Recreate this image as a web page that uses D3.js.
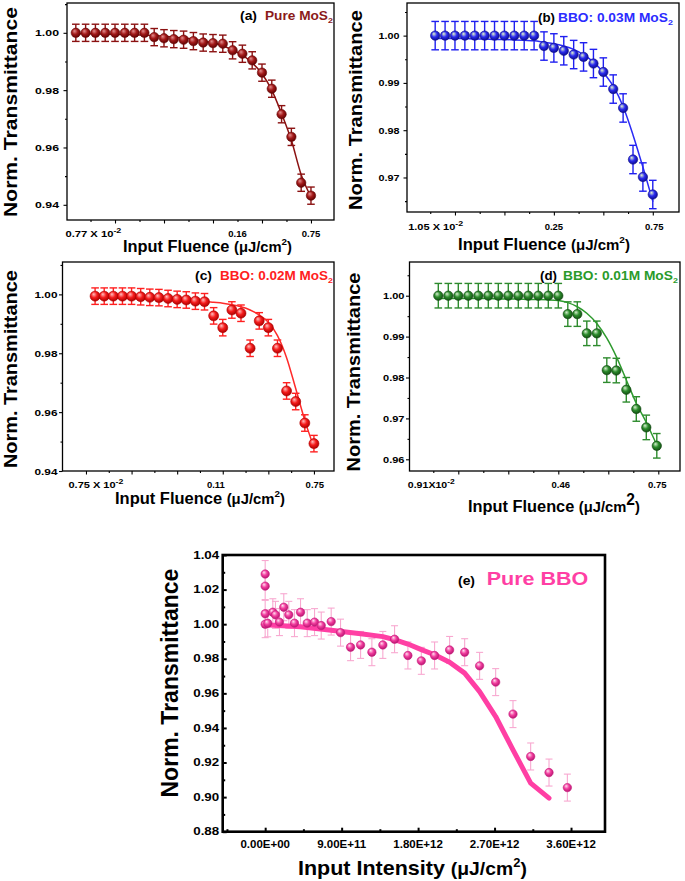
<!DOCTYPE html>
<html><head><meta charset="utf-8">
<script src="https://cdn.jsdelivr.net/npm/d3@7"></script>
<style>
body{margin:0;background:#fff}
svg{display:block}
text{font-family:"Liberation Sans",Arial,Helvetica,sans-serif;font-weight:bold}
</style>
</head><body>
<svg id="c" width="685" height="881"></svg>
<script>
// ---------------- DATA ----------------
// (a) Pure MoS2
const aX   = [-0.8,-0.6,-0.4,-0.2,0,0.2,0.4,0.6,0.8,1.0,1.2,1.4,1.6,1.8,2.0,2.2,2.4,2.6,2.8,3.0,3.2,3.4,3.6,3.8,4.0];
const aY   = [1.000,1.000,1.000,1.000,1.000,1.000,1.000,1.000,0.9985,0.9981,0.9978,0.9976,0.9971,0.9966,0.9964,0.9962,0.9939,0.9927,0.9904,0.9861,0.9805,0.9716,0.9637,0.9477,0.9432];
const aFit = [0.9997,0.9997,0.9996,0.9996,0.9995,0.9994,0.9993,0.9992,0.9990,0.9988,0.9985,0.9982,0.9978,0.9972,0.9965,0.9955,0.9940,0.9922,0.9895,0.9857,0.9800,0.9718,0.9625,0.9505,0.9428];
const aErr = 0.003;
const aTickLabels = ["0.77 X 10|-2","0.16","0.75"];
const aTickPos = [-0.44, 2.5, 4.0];

// (b) BBO: 0.03M MoS2
const bX   = [-0.4,-0.2,0,0.2,0.4,0.6,0.8,1.0,1.2,1.4,1.6,1.8,2.0,2.2,2.4,2.6,2.8,3.0,3.2,3.4,3.6,3.8,4.0];
const bY   = [1,1,1,1,1,1,1,1,1,1,1,0.9978,0.9974,0.9968,0.9960,0.9955,0.9941,0.9923,0.9887,0.9847,0.9738,0.9701,0.9664];
const bFit = [0.9994,0.9994,0.9994,0.9994,0.9993,0.9993,0.9992,0.9992,0.9991,0.9990,0.9989,0.9986,0.9983,0.9978,0.9971,0.9960,0.9944,0.9922,0.9893,0.9850,0.9790,0.9722,0.9650];
const bErr = 0.003;
const bTickLabels = ["1.05 X 10|-2","0.25","0.75"];
const bTickPos = [-0.39, 2.0, 4.03];

// (c) BBO: 0.02M MoS2
const cX   = [0.2,0.4,0.6,0.8,1.0,1.2,1.4,1.6,1.8,2.0,2.2,2.4,2.6,2.8,3.0,3.2,3.4,3.6,3.8,4.0,4.2,4.4,4.6,4.8,5.0];
const cY   = [0.9994,0.9994,0.9994,0.9994,0.9994,0.9992,0.9990,0.9989,0.9986,0.9983,0.9981,0.9977,0.9975,0.9927,0.9887,0.9947,0.9936,0.9817,0.9910,0.9887,0.9817,0.9672,0.9636,0.9563,0.9493];
const cFit = [0.9988,0.9988,0.9987,0.9987,0.9986,0.9985,0.9984,0.9983,0.9982,0.9981,0.9980,0.9978,0.9976,0.9973,0.9970,0.9965,0.9958,0.9947,0.9930,0.9905,0.9860,0.9785,0.9680,0.9572,0.9480];
const cErr = 0.0028;
const cTickLabels = ["0.75 X 10|-2","0.11","0.75"];
const cTickPos = [0.22, 2.85, 5.02];

// (d) BBO: 0.01M MoS2
const dX   = [-0.4,-0.2,0,0.2,0.4,0.6,0.8,1.0,1.2,1.4,1.6,1.8,2.0,2.19,2.38,2.57,2.77,2.97,3.16,3.36,3.56,3.76,3.97];
const dY   = [1,1,1,1,1,1,1,1,1,1,1,1,1,0.9955,0.9955,0.9908,0.9908,0.9818,0.9817,0.9770,0.9723,0.9678,0.9633];
const dFit = [0.9993,0.9993,0.9993,0.9993,0.9993,0.9993,0.9992,0.9992,0.9992,0.9991,0.9991,0.9990,0.9988,0.9983,0.9973,0.9957,0.9932,0.9896,0.9851,0.9794,0.9737,0.9690,0.9635];
const dErr = 0.003;
const dTickLabels = ["0.91X10|-2","0.46","0.75"];
const dTickPos = [-0.54, 2.05, 3.98];

// (e) Pure BBO
const eX = [0,0,0,0,3e10,9.0e10,1.21e11,1.68e11,2.19e11,2.78e11,3.45e11,4.16e11,4.95e11,5.81e11,6.6e11,7.77e11,8.87e11,1.005e12,1.123e12,1.256e12,1.385e12,1.523e12,1.68e12,1.838e12,1.994e12,2.171e12,2.348e12,2.524e12,2.713e12,2.917e12,3.125e12,3.341e12,3.557e12];
const eY = [1.029,1.022,1.006,1.000,1.0005,1.0069,1.0054,1.0012,1.0098,1.0054,1.0006,1.0069,1.0006,1.0012,0.9992,1.0015,0.9951,0.9867,0.9880,0.9838,0.9880,0.9913,0.9819,0.9788,0.9819,0.9851,0.9838,0.9759,0.9665,0.9480,0.9235,0.9142,0.9055];
const eErr = 0.0078;
const eFitX = [0,4.16e11,7.77e11,1.123e12,1.385e12,1.523e12,1.68e12,1.838e12,1.994e12,2.171e12,2.348e12,2.524e12,2.713e12,2.917e12,3.125e12,3.341e12];
const eFitY = [0.9997,0.9985,0.9965,0.9945,0.9928,0.9910,0.9885,0.9853,0.9823,0.9780,0.9717,0.9610,0.9466,0.9273,0.9081,0.8994];
const eTickVals = [0,9e11,1.8e12,2.7e12,3.6e12];
const eTickLabels = ["0.00E+00","9.00E+11","1.80E+12","2.70E+12","3.60E+12"];
const eYTicks = [0.88,0.90,0.92,0.94,0.96,0.98,1.00,1.02,1.04];

// ---------------- DRAWING ----------------
const svg = d3.select("#c");
const defs = svg.append("defs");
const FONT = '"Liberation Sans",Arial,Helvetica,sans-serif';

function ballGrad(id, hi, base, dark){
  const g = defs.append("radialGradient").attr("id", id)
    .attr("cx","45%").attr("cy","42%").attr("r","60%").attr("fx","35%").attr("fy","30%");
  g.append("stop").attr("offset","0%").attr("stop-color",hi);
  g.append("stop").attr("offset","50%").attr("stop-color",base);
  g.append("stop").attr("offset","100%").attr("stop-color",dark);
}
ballGrad("ga","#e39090","#a31a1a","#5c0000");
ballGrad("gb","#e4f7c8","#2b2bee","#0a0a8c");
ballGrad("gc","#ffc0c0","#f51c1c","#a80000");
ballGrad("gd","#d8f0d0","#2c8c2c","#124c12");
ballGrad("ge","#ffe0f0","#f23d9e","#b4136e");

// text fitted to a target width (keeps real text, scales horizontally)
function fitText(parent, o){
  const g = parent.append("g");
  const t = g.append("text").attr("fill", o.fill || "#000");
  o.parts.forEach(p=>{
    const ts = t.append("tspan").text(p.t).attr("font-size", p.size);
    if(p.dy) ts.attr("dy", p.dy);
    if(p.fill) ts.attr("fill", p.fill);
  });
  const w = t.node().getComputedTextLength();
  const s = o.width / w;
  const x0 = o.anchor==="start" ? 0 : (o.anchor==="end" ? -o.width : -o.width/2);
  t.attr("transform",`translate(${x0},0) scale(${s},1)`);
  g.attr("transform", o.rotate ? `translate(${o.x},${o.y}) rotate(-90)` : `translate(${o.x},${o.y})`);
  return g;
}

function tickLabel(parent, x, y, label, size, width){
  const parts = label.split("|");
  if(parts.length>1){
    fitText(parent,{x:x,y:y,width:width,parts:[{t:parts[0],size:size},{t:parts[1],size:size*0.8,dy:-4}]});
  } else {
    parent.append("text").attr("x",x).attr("y",y).attr("text-anchor","middle").attr("font-size",size).text(parts[0]);
  }
}

function drawPanel(p){
  const g = svg.append("g");
  const x = d3.scaleLinear().domain(p.xDomain).range([p.left,p.right]);
  const y = d3.scaleLinear().domain(p.yDomain).range([p.bottom,p.top]);

  // y ticks
  const yAxis = d3.axisLeft(y).tickValues(p.yTicks).tickFormat(d3.format(".2f")).tickSize(p.tickLen).tickPadding(p.yPad);
  const ya = g.append("g").attr("transform",`translate(${p.left},0)`).call(yAxis)
    .attr("font-family",FONT).attr("font-size",p.yFont);
  ya.select(".domain").remove();
  ya.selectAll(".tick line").attr("stroke-width",p.tickW);
  ya.selectAll("text").attr("font-weight","bold").attr("fill","#000")
    .attr("textLength",p.yLabW).attr("lengthAdjust","spacingAndGlyphs");
  const yMin = d3.axisLeft(y).tickValues(p.yMinor).tickFormat("").tickSize(p.minorLen);
  const ym = g.append("g").attr("transform",`translate(${p.left},0)`).call(yMin);
  ym.select(".domain").remove();
  ym.selectAll(".tick line").attr("stroke-width",p.tickW);

  // x ticks
  const xAxis = d3.axisBottom(x).tickValues(p.xMajor).tickFormat("").tickSize(p.tickLen);
  const xa = g.append("g").attr("transform",`translate(0,${p.bottom})`).call(xAxis);
  xa.select(".domain").remove();
  xa.selectAll(".tick line").attr("stroke-width",p.tickW);
  const xMin = d3.axisBottom(x).tickValues(p.xMinor).tickFormat("").tickSize(p.minorLen);
  const xm = g.append("g").attr("transform",`translate(0,${p.bottom})`).call(xMin);
  xm.select(".domain").remove();
  xm.selectAll(".tick line").attr("stroke-width",p.tickW);

  // frame
  g.append("rect").attr("x",p.left).attr("y",p.top).attr("width",p.right-p.left).attr("height",p.bottom-p.top)
    .attr("fill","none").attr("stroke","#000").attr("stroke-width",p.frameW);

  // x tick labels
  p.tickLabels.forEach((lab,i)=> tickLabel(g, x(p.tickPos[i]), p.xLabY, lab, p.xFont, p.sciW));

  // error bars
  const eb = g.append("g").attr("stroke",p.errColor).attr("stroke-width",p.errW).attr("fill","none");
  p.xs.forEach((xv,i)=>{
    const cx = x(xv), y1 = y(p.ys[i]+p.err), y2 = y(p.ys[i]-p.err);
    eb.append("line").attr("x1",cx).attr("x2",cx).attr("y1",y1).attr("y2",y2);
    eb.append("line").attr("x1",cx-p.cap).attr("x2",cx+p.cap).attr("y1",y1).attr("y2",y1);
    eb.append("line").attr("x1",cx-p.cap).attr("x2",cx+p.cap).attr("y1",y2).attr("y2",y2);
  });

  // fit line
  const line = d3.line().x(d=>x(d[0])).y(d=>y(d[1])).curve(p.curve);
  g.append("path").datum(p.fitX.map((v,i)=>[v,p.fitY[i]]))
    .attr("d",line).attr("fill","none").attr("stroke",p.lineColor).attr("stroke-width",p.lineW)
    .attr("stroke-linejoin","round").attr("stroke-linecap","round");

  // points
  g.append("g").selectAll("circle").data(p.xs.map((v,i)=>[v,p.ys[i]])).join("circle")
    .attr("cx",d=>x(d[0])).attr("cy",d=>y(d[1])).attr("r",p.r)
    .attr("fill",`url(#${p.grad})`).attr("stroke",p.ptStroke).attr("stroke-width",0.6);

  // titles
  fitText(g,{x:p.yTitle[0],y:p.yTitle[1],width:p.yTitle[2],rotate:true,
    parts:[{t:"Norm. Transmittance",size:p.yTitleSize}]});
  const xt = p.xTitle;
  fitText(g,{x:xt[0],y:xt[1],width:xt[2],parts:[
    {t:"Input "+p.xWord+" ",size:xt[3]},
    {t:"(\u03BCJ/cm",size:xt[3]*p.unitScale},
    {t:"2",size:xt[3]*p.supScale,dy:-xt[3]*0.42},
    {t:")",size:xt[3]*p.unitScale,dy:xt[3]*0.42}
  ]});
  // panel labels
  const pl = p.plabel;
  fitText(g,{x:pl[0],y:pl[2],width:pl[1],anchor:"start",parts:[{t:p.letter,size:pl[3]}]});
  const nm = p.name;
  const nameParts = p.sub ? [{t:p.title,size:nm[3]},{t:"2",size:nm[3]*0.65,dy:3}] : [{t:p.title,size:nm[3]}];
  fitText(g,{x:nm[0],y:nm[2],width:nm[1],anchor:"start",fill:p.titleColor,parts:nameParts});
}

const common = {tickLen:3.5, minorLen:2, tickW:1.1, frameW:1.3, errW:1.4, lineW:1.5, curve:d3.curveMonotoneX,
  xFont:9.5, yFont:9.5, yTitleSize:19, xWord:"Fluence", supScale:0.6, unitScale:0.9, sub:true, cap:3.8, r:4.7};

drawPanel(Object.assign({},common,{
  left:67,right:334,top:3,bottom:220,xDomain:[-0.98,4.47],yDomain:[0.9347,1.0104],
  yTicks:[0.94,0.96,0.98,1.00],yMinor:[0.95,0.97,0.99,1.01],yPad:4.5,yLabW:24,
  xMajor:[0,1,2,3,4],xMinor:[-0.5,0.5,1.5,2.5,3.5],
  tickLabels:aTickLabels,tickPos:aTickPos,xLabY:237,sciW:56,
  xs:aX,ys:aY,err:aErr,fitX:aX,fitY:aFit,
  errColor:"#8b1111",lineColor:"#8b1111",grad:"ga",ptStroke:"#6a0808",
  yTitle:[17,112,210],xTitle:[207.5,252,169,16.5],
  letter:"(a)",plabel:[240,17,20,13],title:"Pure MoS",name:[265,68,20,12.5],titleColor:"#8b1a1a"
}));

drawPanel(Object.assign({},common,{
  left:407,right:679,top:3,bottom:212,xDomain:[-0.97,4.53],yDomain:[0.9627,1.0069],
  yTicks:[0.97,0.98,0.99,1.00],yMinor:[0.965,0.975,0.985,0.995,1.005],yPad:4,yLabW:21,
  xMajor:[0,1,2,3,4],xMinor:[-0.5,0.5,1.5,2.5,3.5],
  tickLabels:bTickLabels,tickPos:bTickPos,xLabY:230,sciW:55,
  xs:bX,ys:bY,err:bErr,fitX:bX,fitY:bFit,
  errColor:"#1f1ff0",lineColor:"#2a2af5",grad:"gb",ptStroke:"#10108a",
  yTitle:[362,110,200],xTitle:[544,250,172,16.5],
  letter:"(b)",plabel:[538,17,21.7,13],title:"BBO: 0.03M MoS",name:[558,115,21.7,12.5],titleColor:"#2b2bff"
}));

drawPanel(Object.assign({},common,{
  left:62.5,right:334,top:262,bottom:471,xDomain:[-0.515,5.44],yDomain:[0.94,1.011],
  yTicks:[0.94,0.96,0.98,1.00],yMinor:[0.95,0.97,0.99,1.01],yPad:1.5,yLabW:23,
  xMajor:[0,1,2,3,4,5],xMinor:[0.5,1.5,2.5,3.5,4.5],
  tickLabels:cTickLabels,tickPos:cTickPos,xLabY:488,sciW:55,
  xs:cX,ys:cY,err:cErr,fitX:cX,fitY:cFit,
  errColor:"#ff2020",lineColor:"#ff2a2a",grad:"gc",ptStroke:"#b00000",r:5,
  yTitle:[17,369,198],xTitle:[200,504,170,16.5],
  letter:"(c)",plabel:[195,17,279.5,13],title:"BBO: 0.02M MoS",name:[220,113,279.5,12.5],titleColor:"#ff2020"
}));

drawPanel(Object.assign({},common,{
  left:409.5,right:680,top:262,bottom:471,xDomain:[-0.976,4.434],yDomain:[0.95714,1.00824],
  yTicks:[0.96,0.97,0.98,0.99,1.00],yMinor:[0.965,0.975,0.985,0.995,1.005],yPad:1.5,yLabW:21.5,
  xMajor:[0,1,2,3,4],xMinor:[-0.5,0.5,1.5,2.5,3.5],
  tickLabels:dTickLabels,tickPos:dTickPos,xLabY:488,sciW:47,
  xs:dX,ys:dY,err:dErr,fitX:dX,fitY:dFit,
  errColor:"#2e8b2e",lineColor:"#2e9a2e",grad:"gd",ptStroke:"#0f460f",
  yTitle:[360,372,199],xTitle:[554,512,172,16.5],supScale:0.95,
  letter:"(d)",plabel:[540,17,280,13],title:"BBO: 0.01M MoS",name:[563,115,280,12.5],titleColor:"#2a9a2a"
}));

drawPanel(Object.assign({},common,{
  left:222.7,right:605,top:555,bottom:831.7,xDomain:[-5e11,4.0e12],yDomain:[0.88,1.04],
  yTicks:eYTicks,yMinor:[0.89,0.91,0.93,0.95,0.97,0.99,1.01,1.03],yPad:3.5,yLabW:26,yFont:10,
  tickLen:-4,minorLen:-2.5,tickW:2,frameW:2.6,
  xMajor:eTickVals,xMinor:[-4.5e11,4.5e11,1.35e12,2.25e12,3.15e12],
  tickLabels:eTickLabels,tickPos:eTickVals,xLabY:848,xFont:11.5,
  xs:eX,ys:eY,err:eErr,fitX:eFitX,fitY:eFitY,curve:d3.curveLinear,
  errColor:"#f8a8d0",errW:1.1,cap:3.5,r:4.2,lineColor:"#ff3fa4",lineW:5,grad:"ge",ptStroke:"#c81c7c",
  yTitle:[178,683,229],yTitleSize:23,xTitle:[412.5,875,229,20],xWord:"Intensity",supScale:0.6,
  letter:"(e)",plabel:[458,17,585,13],title:"Pure BBO",name:[486.7,101.6,585,18.5],titleColor:"#ff3fa4",sub:false
}));
</script>
</body></html>
